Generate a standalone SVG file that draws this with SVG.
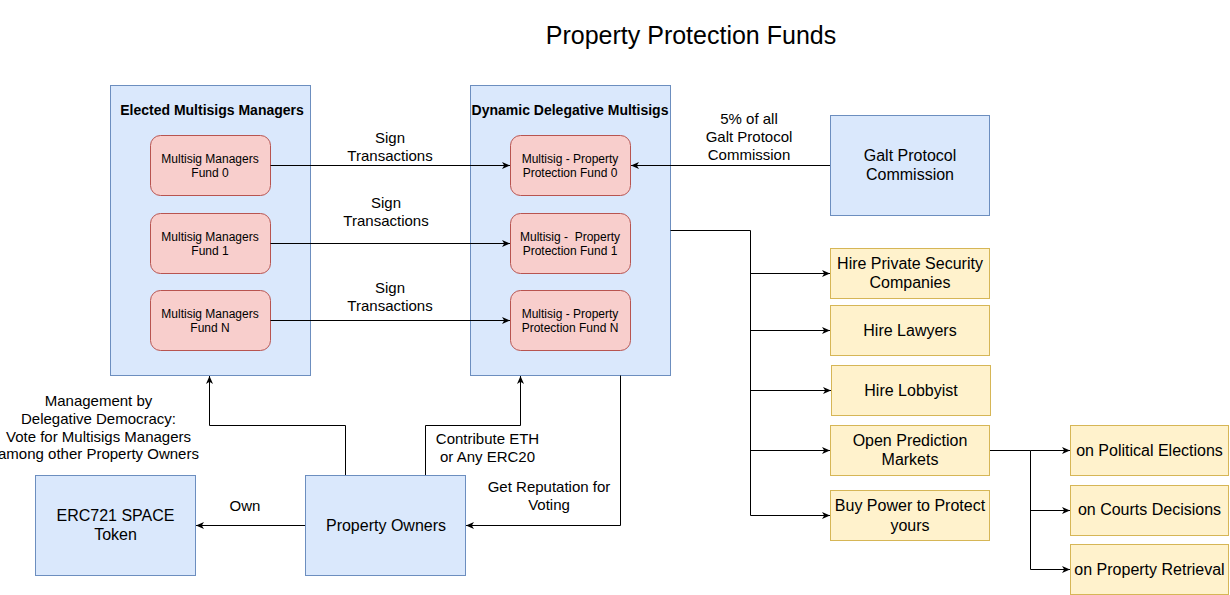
<svg xmlns="http://www.w3.org/2000/svg" width="1230" height="595" viewBox="0 0 1230 595">
<style>
text{font-family:"Liberation Sans",Arial,Helvetica,sans-serif;fill:#000;text-anchor:middle}
.blue{fill:#dae8fc;stroke:#6c8ebf;stroke-width:1}
.pink{fill:#f8cecc;stroke:#b85450;stroke-width:1}
.yel{fill:#fff2cc;stroke:#d6b656;stroke-width:1}
.t12{font-size:12px}
.t15{font-size:15px}
.t16{font-size:16px}
.hd{font-size:14px;font-weight:bold}
.ln{fill:none;stroke:#000;stroke-width:1}
.arr{marker-end:url(#ah)}
</style>
<defs>
<marker id="ah" markerUnits="userSpaceOnUse" markerWidth="9" markerHeight="8" refX="8" refY="4" orient="auto">
<path d="M0,0.5 L8,4 L0,7.5 L2.2,4 z" fill="#000"/>
</marker>
</defs>
<rect width="1230" height="595" fill="#fff"/>
<text id="title" x="691" y="44" style="font-size:25px">Property Protection Funds</text>

<g id="elected-managers">
<rect class="blue" x="110.5" y="85.5" width="200" height="290"/>
<text class="hd" x="212" y="115">Elected Multisigs Managers</text>
</g>
<g id="mgr-fund0">
<rect class="pink" x="150.5" y="135.5" width="120" height="60" rx="10"/>
<text class="t12" x="210" y="162.5">Multisig Managers</text>
<text class="t12" x="210" y="177">Fund 0</text>
</g>
<g id="mgr-fund1">
<rect class="pink" x="150.5" y="213.5" width="120" height="60" rx="10"/>
<text class="t12" x="210" y="240.5">Multisig Managers</text>
<text class="t12" x="210" y="255">Fund 1</text>
</g>
<g id="mgr-fundN">
<rect class="pink" x="150.5" y="290.5" width="120" height="60" rx="10"/>
<text class="t12" x="210" y="317.5">Multisig Managers</text>
<text class="t12" x="210" y="332">Fund N</text>
</g>

<g id="dynamic-multisigs">
<rect class="blue" x="470.5" y="85.5" width="200" height="290"/>
<text class="hd" x="570" y="115">Dynamic Delegative Multisigs</text>
</g>
<g id="ms-fund0">
<rect class="pink" x="510.5" y="135.5" width="120" height="60" rx="10"/>
<text class="t12" x="570" y="162.5">Multisig - Property</text>
<text class="t12" x="570" y="177">Protection Fund 0</text>
</g>
<g id="ms-fund1">
<rect class="pink" x="510.5" y="213.5" width="120" height="60" rx="10"/>
<text class="t12" x="570" y="240.5" style="white-space:pre">Multisig -  Property</text>
<text class="t12" x="570" y="255">Protection Fund 1</text>
</g>
<g id="ms-fundN">
<rect class="pink" x="510.5" y="290.5" width="120" height="60" rx="10"/>
<text class="t12" x="570" y="317.5">Multisig - Property</text>
<text class="t12" x="570" y="332">Protection Fund N</text>
</g>

<g id="galt-commission">
<rect class="blue" x="830.5" y="115.5" width="159" height="100"/>
<text class="t16" x="910" y="160.6">Galt Protocol</text>
<text class="t16" x="910" y="179.6">Commission</text>
</g>

<g id="hire-security">
<rect class="yel" x="830.5" y="248.5" width="159" height="50"/>
<text class="t16" x="910" y="269">Hire Private Security</text>
<text class="t16" x="910" y="288.3">Companies</text>
</g>
<g id="hire-lawyers">
<rect class="yel" x="830.5" y="305.5" width="159" height="50"/>
<text class="t16" x="910" y="335.6">Hire Lawyers</text>
</g>
<g id="hire-lobbyist">
<rect class="yel" x="831.5" y="365.5" width="159" height="50"/>
<text class="t16" x="911" y="395.6">Hire Lobbyist</text>
</g>
<g id="prediction-markets">
<rect class="yel" x="830.5" y="425.5" width="159" height="50"/>
<text class="t16" x="910" y="446">Open Prediction</text>
<text class="t16" x="910" y="465">Markets</text>
</g>
<g id="buy-power">
<rect class="yel" x="830.5" y="490.5" width="159" height="50"/>
<text class="t16" x="910" y="511">Buy Power to Protect</text>
<text class="t16" x="910" y="530.5">yours</text>
</g>

<g id="political-elections">
<rect class="yel" x="1070.5" y="425.5" width="158" height="50"/>
<text class="t16" x="1149.5" y="455.6">on Political Elections</text>
</g>
<g id="courts-decisions">
<rect class="yel" x="1070.5" y="485.5" width="158" height="50"/>
<text class="t16" x="1149.5" y="515.3">on Courts Decisions</text>
</g>
<g id="property-retrieval">
<rect class="yel" x="1070.5" y="544.5" width="158" height="50"/>
<text class="t16" x="1149.5" y="575">on Property Retrieval</text>
</g>

<g id="erc721-token">
<rect class="blue" x="35.5" y="475.5" width="160" height="100"/>
<text class="t16" x="115.5" y="521.3">ERC721 SPACE</text>
<text class="t16" x="115.5" y="540">Token</text>
</g>
<g id="property-owners">
<rect class="blue" x="305.5" y="475.5" width="160" height="100"/>
<text class="t16" x="386" y="531">Property Owners</text>
</g>

<g id="connectors">
<path class="ln arr" d="M270.5,165.5 H510"/>
<path class="ln arr" d="M270.5,243.5 H510"/>
<path class="ln arr" d="M270.5,320.5 H510"/>
<path class="ln arr" d="M830,165.5 H631"/>
<path class="ln" d="M670.5,230.5 H750.5 V515.5"/>
<path class="ln arr" d="M750.5,273.5 H830"/>
<path class="ln arr" d="M750.5,330.5 H830"/>
<path class="ln arr" d="M750.5,390.5 H831"/>
<path class="ln arr" d="M750.5,450.5 H830"/>
<path class="ln arr" d="M750.5,515.5 H830"/>
<path class="ln" d="M990,450.5 H1030.5 V569.5"/>
<path class="ln arr" d="M1030.5,450.5 H1070"/>
<path class="ln arr" d="M1030.5,510.5 H1070"/>
<path class="ln arr" d="M1030.5,569.5 H1070"/>
<path class="ln arr" d="M305,525.5 H196"/>
<path class="ln arr" d="M345.5,475 V425.5 H209.5 V376"/>
<path class="ln arr" d="M425.5,475 V425.5 H520.5 V376"/>
<path class="ln arr" d="M620.5,375.5 V525.5 H466"/>
<text class="t15" x="390" y="143.3">Sign</text>
<text class="t15" x="390" y="161.3">Transactions</text>
<text class="t15" x="386" y="208.3">Sign</text>
<text class="t15" x="386" y="226.3">Transactions</text>
<text class="t15" x="390" y="293.3">Sign</text>
<text class="t15" x="390" y="311.3">Transactions</text>
<text class="t15" x="749" y="124.3">5% of all</text>
<text class="t15" x="749" y="142">Galt Protocol</text>
<text class="t15" x="749" y="160">Commission</text>
<text class="t15" x="98.5" y="406">Management by</text>
<text class="t15" x="98.5" y="423.5">Delegative Democracy:</text>
<text class="t15" x="98.5" y="441.5">Vote for Multisigs Managers</text>
<text class="t15" x="98.5" y="459.3">among other Property Owners</text>
<text class="t15" x="487.5" y="443.5">Contribute ETH</text>
<text class="t15" x="487.5" y="461.5">or Any ERC20</text>
<text class="t15" x="549" y="492.3">Get Reputation for</text>
<text class="t15" x="549" y="510.3">Voting</text>
<text class="t15" x="245" y="511">Own</text>
</g>
</svg>
